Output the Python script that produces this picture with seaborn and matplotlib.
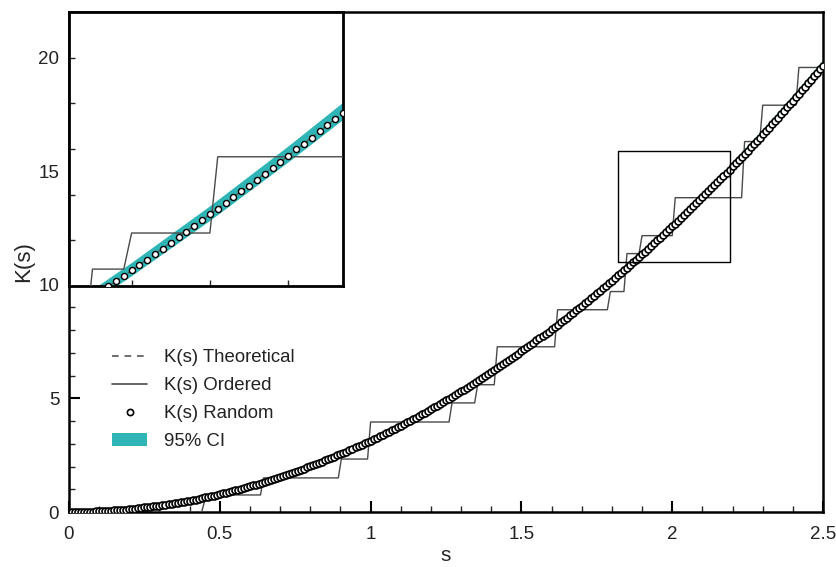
import numpy as np
import pandas as pd
import matplotlib
matplotlib.use("Agg")
import matplotlib.pyplot as plt
import seaborn as sns
from matplotlib.lines import Line2D
from matplotlib.patches import Patch

# ---------------- data ----------------
s_random = [
    0.00, 0.01, 0.02, 0.03, 0.04, 0.05, 0.06, 0.07, 0.08, 0.09,
    0.10, 0.11, 0.12, 0.13, 0.14, 0.15, 0.16, 0.17, 0.18, 0.19,
    0.20, 0.21, 0.22, 0.23, 0.24, 0.25, 0.26, 0.27, 0.28, 0.29,
    0.30, 0.31, 0.32, 0.33, 0.34, 0.35, 0.36, 0.37, 0.38, 0.39,
    0.40, 0.41, 0.42, 0.43, 0.44, 0.45, 0.46, 0.47, 0.48, 0.49,
    0.50, 0.51, 0.52, 0.53, 0.54, 0.55, 0.56, 0.57, 0.58, 0.59,
    0.60, 0.61, 0.62, 0.63, 0.64, 0.65, 0.66, 0.67, 0.68, 0.69,
    0.70, 0.71, 0.72, 0.73, 0.74, 0.75, 0.76, 0.77, 0.78, 0.79,
    0.80, 0.81, 0.82, 0.83, 0.84, 0.85, 0.86, 0.87, 0.88, 0.89,
    0.90, 0.91, 0.92, 0.93, 0.94, 0.95, 0.96, 0.97, 0.98, 0.99,
    1.00, 1.01, 1.02, 1.03, 1.04, 1.05, 1.06, 1.07, 1.08, 1.09,
    1.10, 1.11, 1.12, 1.13, 1.14, 1.15, 1.16, 1.17, 1.18, 1.19,
    1.20, 1.21, 1.22, 1.23, 1.24, 1.25, 1.26, 1.27, 1.28, 1.29,
    1.30, 1.31, 1.32, 1.33, 1.34, 1.35, 1.36, 1.37, 1.38, 1.39,
    1.40, 1.41, 1.42, 1.43, 1.44, 1.45, 1.46, 1.47, 1.48, 1.49,
    1.50, 1.51, 1.52, 1.53, 1.54, 1.55, 1.56, 1.57, 1.58, 1.59,
    1.60, 1.61, 1.62, 1.63, 1.64, 1.65, 1.66, 1.67, 1.68, 1.69,
    1.70, 1.71, 1.72, 1.73, 1.74, 1.75, 1.76, 1.77, 1.78, 1.79,
    1.80, 1.81, 1.82, 1.83, 1.84, 1.85, 1.86, 1.87, 1.88, 1.89,
    1.90, 1.91, 1.92, 1.93, 1.94, 1.95, 1.96, 1.97, 1.98, 1.99,
    2.00, 2.01, 2.02, 2.03, 2.04, 2.05, 2.06, 2.07, 2.08, 2.09,
    2.10, 2.11, 2.12, 2.13, 2.14, 2.15, 2.16, 2.17, 2.18, 2.19,
    2.20, 2.21, 2.22, 2.23, 2.24, 2.25, 2.26, 2.27, 2.28, 2.29,
    2.30, 2.31, 2.32, 2.33, 2.34, 2.35, 2.36, 2.37, 2.38, 2.39,
    2.40, 2.41, 2.42, 2.43, 2.44, 2.45, 2.46, 2.47, 2.48, 2.49,
    2.50,
]
k_random = [
    0.00, 0.00, 0.00, 0.00, 0.01, 0.01, 0.01, 0.02, 0.02, 0.03,
    0.03, 0.04, 0.05, 0.05, 0.06, 0.07, 0.08, 0.09, 0.10, 0.11,
    0.13, 0.14, 0.15, 0.17, 0.18, 0.20, 0.21, 0.23, 0.25, 0.26,
    0.28, 0.30, 0.32, 0.34, 0.36, 0.38, 0.41, 0.43, 0.45, 0.48,
    0.50, 0.53, 0.55, 0.58, 0.61, 0.64, 0.66, 0.69, 0.72, 0.75,
    0.79, 0.82, 0.85, 0.88, 0.92, 0.95, 0.99, 1.02, 1.06, 1.09,
    1.13, 1.17, 1.21, 1.25, 1.29, 1.33, 1.37, 1.41, 1.45, 1.50,
    1.54, 1.58, 1.63, 1.67, 1.72, 1.77, 1.81, 1.86, 1.91, 1.96,
    2.01, 2.06, 2.11, 2.16, 2.22, 2.27, 2.32, 2.38, 2.43, 2.49,
    2.54, 2.60, 2.66, 2.72, 2.78, 2.84, 2.90, 2.96, 3.02, 3.08,
    3.14, 3.20, 3.27, 3.33, 3.40, 3.46, 3.53, 3.60, 3.66, 3.73,
    3.80, 3.87, 3.94, 4.01, 4.08, 4.15, 4.23, 4.30, 4.37, 4.45,
    4.52, 4.60, 4.68, 4.75, 4.83, 4.91, 4.99, 5.07, 5.15, 5.23,
    5.31, 5.39, 5.47, 5.56, 5.64, 5.73, 5.81, 5.90, 5.98, 6.07,
    6.16, 6.25, 6.33, 6.42, 6.51, 6.61, 6.70, 6.79, 6.88, 6.97,
    7.07, 7.16, 7.26, 7.35, 7.45, 7.55, 7.65, 7.74, 7.84, 7.94,
    8.04, 8.14, 8.24, 8.35, 8.45, 8.55, 8.66, 8.76, 8.87, 8.97,
    9.08, 9.19, 9.29, 9.40, 9.51, 9.62, 9.73, 9.84, 9.95, 10.07,
    10.18, 10.29, 10.41, 10.52, 10.64, 10.75, 10.87, 10.99, 11.10, 11.22,
    11.34, 11.46, 11.58, 11.70, 11.82, 11.95, 12.07, 12.19, 12.32, 12.44,
    12.57, 12.69, 12.82, 12.95, 13.07, 13.20, 13.33, 13.46, 13.59, 13.72,
    13.85, 13.99, 14.12, 14.25, 14.39, 14.52, 14.66, 14.79, 14.93, 15.07,
    15.21, 15.34, 15.48, 15.62, 15.76, 15.90, 16.05, 16.19, 16.33, 16.47,
    16.62, 16.76, 16.91, 17.06, 17.20, 17.35, 17.50, 17.65, 17.80, 17.95,
    18.10, 18.25, 18.40, 18.55, 18.70, 18.86, 19.01, 19.17, 19.32, 19.48,
    19.63,
]

s_theory = [
    0.00, 0.05, 0.10, 0.15, 0.20, 0.25, 0.30, 0.35, 0.40, 0.45,
    0.50, 0.55, 0.60, 0.65, 0.70, 0.75, 0.80, 0.85, 0.90, 0.95,
    1.00, 1.05, 1.10, 1.15, 1.20, 1.25, 1.30, 1.35, 1.40, 1.45,
    1.50, 1.55, 1.60, 1.65, 1.70, 1.75, 1.80, 1.85, 1.90, 1.95,
    2.00, 2.05, 2.10, 2.15, 2.20, 2.25, 2.30, 2.35, 2.40, 2.45,
    2.50,
]
k_theory = [
    0.00, 0.01, 0.03, 0.07, 0.13, 0.20, 0.28, 0.38, 0.50, 0.64,
    0.79, 0.95, 1.13, 1.33, 1.54, 1.77, 2.01, 2.27, 2.54, 2.84,
    3.14, 3.46, 3.80, 4.15, 4.52, 4.91, 5.31, 5.73, 6.16, 6.61,
    7.07, 7.55, 8.04, 8.55, 9.08, 9.62, 10.18, 10.75, 11.34, 11.95,
    12.57, 13.20, 13.85, 14.52, 15.21, 15.90, 16.62, 17.35, 18.10, 18.86,
    19.63,
]

s_ci = [0.0, 0.1, 0.2, 0.3, 0.4, 0.5, 0.6, 0.7, 0.8, 0.9, 1.0, 1.1, 1.2,
        1.3, 1.4, 1.5, 1.6, 1.7, 1.8, 1.9, 2.0, 2.1, 2.2, 2.3, 2.4, 2.5]
ci_lower = [0.00, 0.03, 0.12, 0.28, 0.50, 0.78, 1.12, 1.52, 1.99, 2.52,
            3.11, 3.76, 4.47, 5.25, 6.09, 6.99, 7.95, 8.97, 10.06, 11.21,
            12.42, 13.70, 15.03, 16.43, 17.89, 19.41]
ci_upper = [0.00, 0.03, 0.13, 0.29, 0.51, 0.80, 1.15, 1.56, 2.04, 2.58,
            3.19, 3.85, 4.59, 5.38, 6.24, 7.17, 8.15, 9.21, 10.32, 11.50,
            12.74, 14.05, 15.42, 16.85, 18.35, 19.91]

s_ordered = [0.00, 0.44, 0.455, 0.635, 0.645, 0.893, 0.903, 0.99, 1.00,
             1.26, 1.27, 1.345, 1.355, 1.41, 1.42, 1.61, 1.62, 1.785,
             1.795, 1.84, 1.85, 1.89, 1.90, 2.00, 2.01, 2.23, 2.24, 2.29,
             2.30, 2.41, 2.42, 2.50]
k_ordered = [0.00, 0.00, 0.75, 0.75, 1.50, 1.50, 2.33, 2.33, 3.96,
             3.96, 4.80, 4.80, 5.60, 5.60, 7.27, 7.27, 8.90, 8.90,
             9.70, 9.70, 11.37, 11.37, 12.16, 12.16, 13.83, 13.83, 16.30, 16.30,
             17.90, 17.90, 19.56, 19.56]

zoom_box_s = [1.82, 2.19]
zoom_box_k = [11.0, 15.9]
inset_s = [1.82, 2.17]
inset_k = [11.0, 17.0]

labels = ["K(s) Theoretical", "K(s) Ordered", "K(s) Random", "95% CI"]

# ---------------- style ----------------
sns.set_style("ticks")
plt.rcParams["font.family"] = ["Liberation Sans", "DejaVu Sans"]

TEAL = "#2fb5b5"
LINE_GRAY = "#4a4a4a"

df_rand = pd.DataFrame({"s": s_random, "K": k_random})
df_theo = pd.DataFrame({"s": s_theory, "K": k_theory})
df_ord = pd.DataFrame({"s": s_ordered, "K": k_ordered})

fig = plt.figure(figsize=(8.37, 5.67), dpi=100)
ax = fig.add_axes([0.0824, 0.097, 0.9009, 0.8818])


def draw(a, ms, mew):
    a.fill_between(s_ci, ci_lower, ci_upper, color=TEAL, lw=0, zorder=1)
    sns.lineplot(data=df_theo, x="s", y="K", ax=a, color="#555555",
                 linestyle="--", lw=1.0, zorder=2)
    sns.lineplot(data=df_ord, x="s", y="K", ax=a, color=LINE_GRAY,
                 lw=1.0, zorder=3)
    sns.scatterplot(data=df_rand, x="s", y="K", ax=a, marker="o", s=ms,
                    facecolor="white", edgecolor="black", linewidth=mew,
                    zorder=4, legend=False)


draw(ax, 25, 1.2)

# zoom box
ax.plot([zoom_box_s[0], zoom_box_s[1], zoom_box_s[1], zoom_box_s[0], zoom_box_s[0]],
        [zoom_box_k[0], zoom_box_k[0], zoom_box_k[1], zoom_box_k[1], zoom_box_k[0]],
        color="black", lw=1.0, zorder=5)

ax.set_xlim(0, 2.5)
ax.set_ylim(0, 22)
ax.set_xticks([0, 0.5, 1, 1.5, 2, 2.5])
ax.set_xticklabels(["0", "0.5", "1", "1.5", "2", "2.5"])
ax.set_yticks([0, 5, 10, 15, 20])
ax.set_xticks(np.arange(0, 2.51, 0.1), minor=True)
ax.set_yticks(np.arange(0, 22.1, 1), minor=True)
ax.tick_params(which="major", direction="in", length=8, width=1.5,
               labelsize=13.5, pad=7, colors="black")
ax.tick_params(axis="x", which="major", pad=10)
ax.tick_params(which="minor", direction="in", length=4, width=1.0)
ax.tick_params(axis="both", labelcolor="#222222")
for sp in ax.spines.values():
    sp.set_visible(True)
    sp.set_linewidth(1.8)
    sp.set_color("black")
ax.set_xlabel("s", fontsize=15, labelpad=2)
ax.set_ylabel("K(s)", fontsize=16, labelpad=3)

handles = [
    Line2D([], [], color="#555555", linestyle=(0, (4, 3.5)), lw=1.2),
    Line2D([], [], color=LINE_GRAY, lw=1.2),
    Line2D([], [], color="black", marker="o", markersize=4.5,
           markerfacecolor="white", markeredgewidth=1.2, linestyle="none"),
    Patch(facecolor=TEAL, edgecolor="none"),
]
leg = ax.legend(handles, labels, loc="upper left", bbox_to_anchor=(0.047, 0.34),
                frameon=False, fontsize=13.4, handlelength=1.9, handletextpad=0.9,
                labelspacing=0.58, borderaxespad=0)
for t in leg.get_texts():
    t.set_color("#222222")

# inset
axins = fig.add_axes([0.0824, 0.4956, 0.3274, 0.4832], zorder=10)
axins.set_facecolor("white")
draw(axins, 19, 1.0)
axins.set_xlim(*inset_s)
axins.set_ylim(*inset_k)
axins.set_xticks([1.9, 2.0, 2.1])
axins.set_yticks([12, 13, 14, 15, 16])
axins.tick_params(direction="in", length=4, width=1.0,
                  labelbottom=False, labelleft=False)
axins.set_xlabel("")
axins.set_ylabel("")
for sp in axins.spines.values():
    sp.set_visible(True)
    sp.set_linewidth(2.0)
    sp.set_color("black")

fig.savefig("out.png", dpi=100)
